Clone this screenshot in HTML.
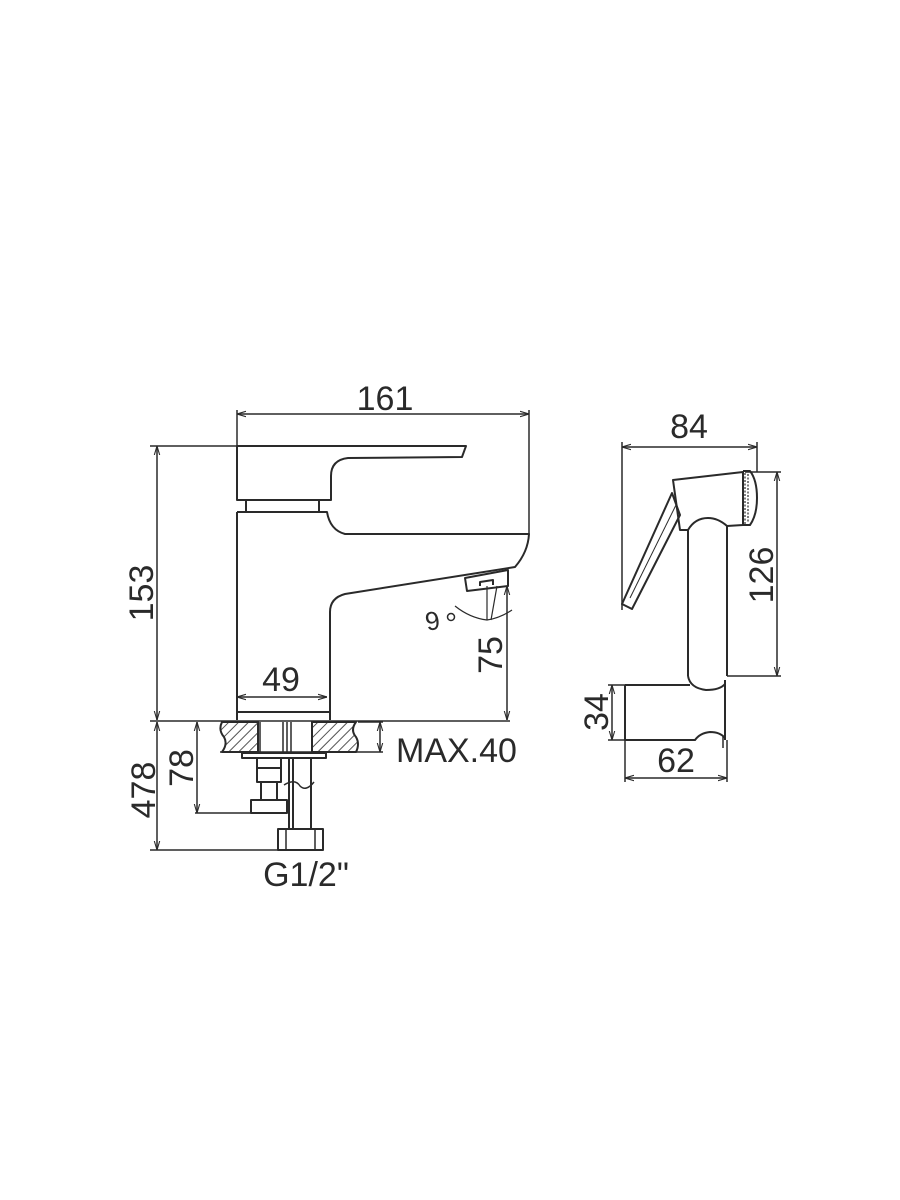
<!DOCTYPE html>
<html><head><meta charset="utf-8"><style>
html,body{margin:0;padding:0;background:#fff}
svg{display:block}
text{font-family:"Liberation Sans",Arial,sans-serif;fill:#2a2a2a}
</style></head><body>
<svg width="900" height="1200" viewBox="0 0 900 1200" xmlns="http://www.w3.org/2000/svg">
<defs>
<marker id="a" viewBox="0 0 10 10" refX="10" refY="5" markerWidth="9" markerHeight="9" orient="auto-start-reverse" markerUnits="userSpaceOnUse"><path d="M0,2 L10,5 L0,8" fill="none" stroke="#2a2a2a" stroke-width="1.2"/></marker>
<pattern id="h" width="7" height="7" patternUnits="userSpaceOnUse" patternTransform="rotate(45)"><line x1="0" y1="0" x2="0" y2="7" stroke="#2a2a2a" stroke-width="1.6"/></pattern>
</defs>
<g fill="none" stroke="#2a2a2a" stroke-width="2" stroke-linejoin="round">
<!-- 161 dim -->
<line x1="237" y1="414" x2="529" y2="414" stroke-width="1.5" marker-start="url(#a)" marker-end="url(#a)"/>
<line x1="237" y1="410" x2="237" y2="446" stroke-width="1.5"/>
<line x1="529" y1="410" x2="529" y2="534" stroke-width="1.5"/>
<!-- 153 dim -->
<line x1="150" y1="446" x2="237" y2="446" stroke-width="1.5"/>
<line x1="157" y1="446" x2="157" y2="720" stroke-width="1.5" marker-start="url(#a)" marker-end="url(#a)"/>
<!-- handle -->
<path d="M237,446 L466,446 L462,457 L348,458 Q331,460 331,476 L331,500 L237,500 Z"/>
<!-- collar -->
<path d="M246,500 L246,512 M319,500 L319,512"/>
<!-- body -->
<path d="M237,512 L327,512 Q330,530 345,534 L529,534 Q528,552 515,567 L345,594 Q330,598 330,612 L330,720"/>
<line x1="237" y1="512" x2="237" y2="720"/>
<line x1="237" y1="712" x2="330" y2="712"/>
<!-- aerator -->
<path d="M465,578 L508,570 L508,586 L467,591 Z"/>
<path d="M480,586 L480,582 L493,580 L493,585"/>
<!-- angle -->
<path d="M487,586 L487,620 M497,586 L491,620" stroke-width="1.2"/>
<path d="M455,606 Q470,618 487,620 Q500,618 512,610" stroke-width="1.2"/>
<!-- 75 dim -->
<line x1="507" y1="586" x2="507" y2="720" stroke-width="1.5" marker-start="url(#a)" marker-end="url(#a)"/>
<!-- 49 dim -->
<line x1="237" y1="697" x2="327" y2="697" stroke-width="1.5" marker-start="url(#a)" marker-end="url(#a)"/>
<!-- base line -->
<line x1="150" y1="721" x2="510" y2="721" stroke-width="1.5"/>
<!-- counter slab -->
<path d="M222,722 L258,722 L258,752 L222,752 Q228,744 224,737 Q218,730 222,722 Z" fill="url(#h)"/>
<path d="M312,722 L356,722 Q350,730 356,737 Q360,744 356,752 L312,752 Z" fill="url(#h)"/>
<line x1="220" y1="752" x2="383" y2="752" stroke-width="1.5"/>
<line x1="358" y1="722" x2="383" y2="722" stroke-width="1.5"/>
<line x1="380" y1="722" x2="380" y2="752" stroke-width="1.5" marker-start="url(#a)" marker-end="url(#a)"/>
<!-- shank -->
<path d="M260,722 L260,752 M283,722 L283,752 M287,722 L287,752 M291,722 L291,752" stroke-width="1.5"/>
<rect x="242" y="753" width="84" height="5"/>
<!-- left hose -->
<rect x="257" y="758" width="24" height="10"/>
<rect x="257" y="768" width="24" height="14"/>
<path d="M261,782 L261,800 M277,782 L277,800"/>
<rect x="251" y="800" width="36" height="13"/>
<!-- right hose -->
<path d="M289,758 L289,830 M293,758 L293,830 M311,758 L311,830"/>
<path d="M284,785 Q295,778 300,786 Q306,792 314,782" stroke-width="1.5"/>
<rect x="278" y="829" width="45" height="21"/>
<path d="M286,829 L286,850 M315,829 L315,850" stroke-width="1.5"/>
<!-- 78 dim -->
<line x1="197" y1="722" x2="197" y2="813" stroke-width="1.5" marker-start="url(#a)" marker-end="url(#a)"/>
<line x1="195" y1="813" x2="251" y2="813" stroke-width="1.5"/>
<!-- 478 dim -->
<line x1="157" y1="722" x2="157" y2="850" stroke-width="1.5" marker-start="url(#a)" marker-end="url(#a)"/>
<line x1="150" y1="850" x2="323" y2="850" stroke-width="1.5"/>

<!-- bidet -->
<line x1="622" y1="447" x2="757" y2="447" stroke-width="1.5" marker-start="url(#a)" marker-end="url(#a)"/>
<line x1="622" y1="442" x2="622" y2="610" stroke-width="1.5"/>
<line x1="757" y1="442" x2="757" y2="472" stroke-width="1.5"/>
<path d="M673,480 L743,472 L743,525 L727,526 Q718,518 708,518 Q695,518 688,530 L680,530 Z"/>
<path d="M743,471 L750,471 Q757,480 757,498 Q757,515 750,525 L743,525" />
<path d="M745,473 L745,524 M748,474 L748,523" stroke-width="1.2" stroke-dasharray="2,1.5"/>
<path d="M688,530 L688,676 M727,526 L727,676"/>
<path d="M672,493 L680,515 L632,609 L622,604 Z"/>
<path d="M676,505 L630,598" stroke-width="1"/>
<!-- 126 -->
<line x1="745" y1="472" x2="781" y2="472" stroke-width="1.5"/>
<line x1="727" y1="676" x2="781" y2="676" stroke-width="1.5"/>
<line x1="777" y1="472" x2="777" y2="676" stroke-width="1.5" marker-start="url(#a)" marker-end="url(#a)"/>
<!-- holder -->
<path d="M688,676 Q690,688 706,690 Q720,690 725,684"/>
<path d="M625,685 L690,685 M725,680 L725,740 M625,685 L625,740 L695,740 Q700,733 710,732 Q720,732 725,738"/>
<line x1="723" y1="736" x2="723" y2="748" stroke-width="1.5"/>
<!-- 34 -->
<line x1="608" y1="685" x2="625" y2="685" stroke-width="1.5"/>
<line x1="608" y1="740" x2="625" y2="740" stroke-width="1.5"/>
<line x1="612" y1="685" x2="612" y2="740" stroke-width="1.5" marker-start="url(#a)" marker-end="url(#a)"/>
<!-- 62 -->
<line x1="625" y1="740" x2="625" y2="782" stroke-width="1.5"/>
<line x1="727" y1="740" x2="727" y2="782" stroke-width="1.5"/>
<line x1="625" y1="778" x2="727" y2="778" stroke-width="1.5" marker-start="url(#a)" marker-end="url(#a)"/>
</g>
<g font-size="34">
<text x="385" y="410" text-anchor="middle">161</text>
<text x="281" y="691" text-anchor="middle">49</text>
<text transform="translate(153,593) rotate(-90)" text-anchor="middle">153</text>
<text transform="translate(502,655) rotate(-90)" text-anchor="middle">75</text>
<text transform="translate(193,768) rotate(-90)" text-anchor="middle">78</text>
<text transform="translate(155,790) rotate(-90)" text-anchor="middle">478</text>
<text x="396" y="762">MAX.40</text>
<text x="306" y="886" text-anchor="middle">G1/2"</text>
<text x="689" y="438" text-anchor="middle">84</text>
<text transform="translate(773,575) rotate(-90)" text-anchor="middle">126</text>
<text transform="translate(608,712) rotate(-90)" text-anchor="middle">34</text>
<text x="676" y="772" text-anchor="middle">62</text>
<text transform="translate(431,612) rotate(170)" font-size="26" text-anchor="middle">6</text>
</g>
<circle cx="451" cy="617" r="3.5" fill="none" stroke="#2a2a2a" stroke-width="1.5"/>
</svg>
</body></html>
